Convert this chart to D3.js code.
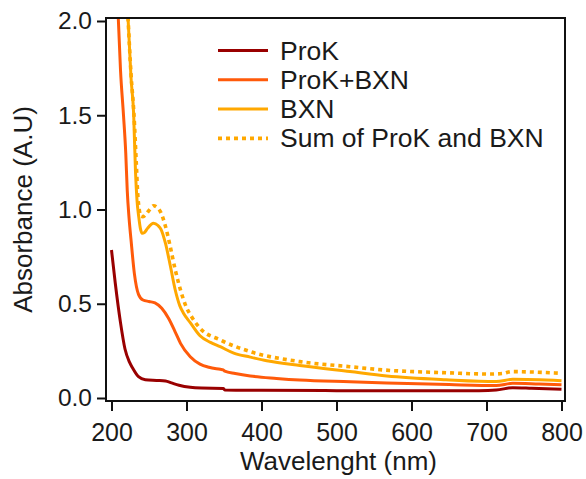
<!DOCTYPE html>
<html>
<head>
<meta charset="utf-8">
<script src="https://cdn.jsdelivr.net/npm/d3@7"></script>
<style>
  html, body { margin: 0; padding: 0; background: #fff; }
  svg { display: block; }
  text { font-family: "Liberation Sans", Arial, Helvetica, sans-serif; fill: #1a1a1a; }
</style>
</head>
<body>
<svg id="chart" width="586" height="479"></svg>
<script>
// UV-Vis absorbance spectra (wavelength in nm, absorbance in A.U)
const xTicks = [200, 300, 400, 500, 600, 700, 800];
const yTicks = [0.0, 0.5, 1.0, 1.5, 2.0];

const prokWl  = [200, 205, 212, 218, 224, 228, 236, 245, 260, 272, 280, 290, 305, 320, 349, 351, 400, 500, 600, 690, 713, 735, 760, 800];
const prokAbs = [0.785, 0.61, 0.40, 0.26, 0.19, 0.16, 0.113, 0.097, 0.093, 0.09, 0.08, 0.068, 0.057, 0.053, 0.051, 0.043, 0.041, 0.039, 0.038, 0.039, 0.042, 0.055, 0.052, 0.046];

const mixWl  = [209, 212, 216, 219, 221, 223.5, 226, 230.5, 236, 242, 250, 258, 267, 276, 285, 292, 305, 318, 330, 345, 349, 351, 365, 385, 420, 451, 518, 567, 650, 713, 735, 770, 800];
const mixAbs = [2.02, 1.74, 1.5, 1.3, 1.1, 0.95, 0.84, 0.66, 0.55, 0.52, 0.512, 0.505, 0.476, 0.423, 0.35, 0.29, 0.219, 0.18, 0.163, 0.152, 0.149, 0.142, 0.13, 0.117, 0.104, 0.095, 0.086, 0.08, 0.071, 0.066, 0.078, 0.074, 0.07];

const bxnWl  = [222, 226, 229.6, 232, 234, 236.3, 238.5, 240.8, 244, 248, 256, 262, 266, 272, 278.5, 285, 291, 296, 305, 318, 332, 345, 363, 385, 407, 451, 518, 567, 646, 713, 735, 800];
const bxnAbs = [2.02, 1.7, 1.5, 1.2, 1.05, 0.962, 0.9, 0.874, 0.878, 0.9, 0.927, 0.915, 0.895, 0.82, 0.70, 0.573, 0.49, 0.45, 0.40, 0.33, 0.295, 0.272, 0.238, 0.217, 0.198, 0.172, 0.14, 0.117, 0.097, 0.087, 0.099, 0.092];

const sumWl  = [222, 226, 230, 233, 235, 237, 239, 242, 246, 251, 256, 261, 265, 272, 278.5, 285, 292, 300, 307, 318, 345, 385, 451, 518, 562, 646, 704, 722, 733, 760, 800];
const sumAbs = [2.02, 1.72, 1.5, 1.25, 1.08, 1.0, 0.965, 0.962, 0.975, 1.0, 1.02, 1.01, 0.99, 0.91, 0.80, 0.68, 0.573, 0.48, 0.43, 0.37, 0.308, 0.246, 0.193, 0.166, 0.149, 0.134, 0.127, 0.13, 0.14, 0.138, 0.131];

const seriesNames = ["ProK", "ProK+BXN", "BXN", "Sum of ProK and BXN"];
const seriesColors = ["#990000", "#ff5a0a", "#ffa800", "#ffa800"];

const series = [
  { name: seriesNames[0], wl: prokWl, abs: prokAbs, color: seriesColors[0], dash: null },
  { name: seriesNames[1], wl: mixWl,  abs: mixAbs,  color: seriesColors[1], dash: null },
  { name: seriesNames[2], wl: bxnWl,  abs: bxnAbs,  color: seriesColors[2], dash: null },
  { name: seriesNames[3], wl: sumWl,  abs: sumAbs,  color: seriesColors[3], dash: "4,4" }
];

const svg = d3.select("#chart");

// plot frame
const frame = { left: 106, top: 18, right: 565, bottom: 401 };

const x = d3.scaleLinear().domain([200, 800]).range([111.5, 561.5]);
const y = d3.scaleLinear().domain([0, 2]).range([398, 21]);

svg.append("defs").append("clipPath").attr("id", "plotClip")
  .append("rect")
  .attr("x", frame.left).attr("y", frame.top)
  .attr("width", frame.right - frame.left).attr("height", frame.bottom - frame.top);

const line = d3.line()
  .x(d => x(d[0]))
  .y(d => y(d[1]))
  .curve(d3.curveMonotoneX);

const plot = svg.append("g").attr("clip-path", "url(#plotClip)");

// draw back to front: sum underneath, ProK on top
[series[3], series[2], series[1], series[0]].forEach(s => {
  const pts = s.wl.map((w, i) => [w, s.abs[i]]);
  plot.append("path")
    .attr("d", line(pts))
    .attr("fill", "none")
    .attr("stroke", s.color)
    .attr("stroke-width", s.dash ? 3.6 : 3)
    .attr("stroke-dasharray", s.dash)
    .attr("stroke-linejoin", "round");
});

// frame box
svg.append("rect")
  .attr("x", frame.left).attr("y", frame.top)
  .attr("width", frame.right - frame.left).attr("height", frame.bottom - frame.top)
  .attr("fill", "none").attr("stroke", "#111").attr("stroke-width", 2);

// y axis
const yAxis = svg.append("g")
  .attr("transform", `translate(${frame.left},0)`)
  .call(d3.axisLeft(y).tickValues(yTicks).tickFormat(d3.format(".1f")).tickSize(9).tickPadding(5));
yAxis.select(".domain").remove();
yAxis.selectAll(".tick line").attr("stroke", "#111").attr("stroke-width", 2);
yAxis.selectAll(".tick text").style("font-size", "24.5px").attr("fill", "#1a1a1a");

// x axis
const xAxis = svg.append("g")
  .attr("transform", `translate(0,${frame.bottom})`)
  .call(d3.axisBottom(x).tickValues(xTicks).tickFormat(d3.format("d")).tickSize(10).tickPadding(12));
xAxis.select(".domain").remove();
xAxis.selectAll(".tick line").attr("stroke", "#111").attr("stroke-width", 2);
xAxis.selectAll(".tick text").style("font-size", "25px").attr("fill", "#1a1a1a");

// axis titles
svg.append("text")
  .attr("x", (x(200) + x(800)) / 2 + 2)
  .attr("y", 470)
  .attr("text-anchor", "middle")
  .style("font-size", "26px")
  .text("Wavelenght (nm)");

svg.append("text")
  .attr("transform", `translate(32,${(y(0) + y(2)) / 2}) rotate(-90)`)
  .attr("text-anchor", "middle")
  .style("font-size", "26px")
  .text("Absorbance (A.U)");

// legend
const legend = svg.append("g");
series.forEach((s, i) => {
  const ly = 50.5 + i * 29.3;
  legend.append("line")
    .attr("x1", 218).attr("x2", 268)
    .attr("y1", ly).attr("y2", ly)
    .attr("stroke", s.color)
    .attr("stroke-width", s.dash ? 3.6 : 3)
    .attr("stroke-dasharray", s.dash);
  legend.append("text")
    .attr("x", 280).attr("y", ly + 9)
    .style("font-size", "26.5px")
    .text(s.name);
});
</script>
</body>
</html>
